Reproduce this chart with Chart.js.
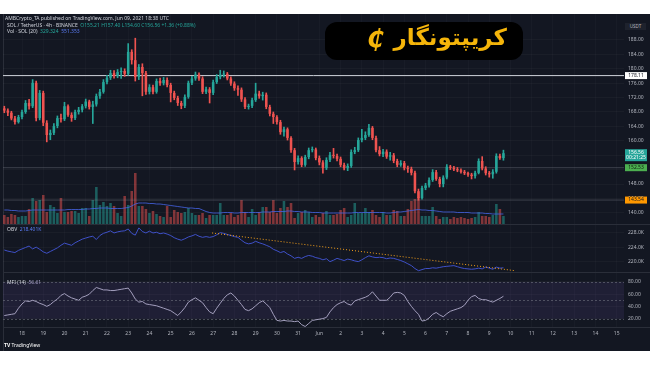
<!DOCTYPE html>
<html>
<head>
<meta charset="utf-8">
<script src="https://cdn.jsdelivr.net/npm/chart.js@4.4.1/dist/chart.umd.min.js"></script>
<style>
body { margin: 0; width: 650px; height: 365px; background: #fff; overflow: hidden; font-family: "Noto Sans", sans-serif; }
#bg { position: absolute; left: 0; top: 14px; width: 650px; height: 337px; background: #131722; }
canvas { position: absolute; left: 0; }
.sep { position: absolute; left: 3px; width: 647px; height: 1px; background: #2a2e39; }
.t { position: absolute; font-size: 5px; line-height: 6px; color: #d1d4dc; white-space: nowrap; }
.g { color: #26a69a; }
.b { color: #5b7cf5; }
.p { color: #a59fc8; }
#logo { position: absolute; left: 325px; top: 22px; width: 198px; height: 38px; background: #000; border-radius: 12px; }
#logo .fa { position: absolute; right: 16px; top: 2px; font: bold 23px "DejaVu Sans"; color: #f5b50a; direction: rtl; }
#logo .coin { position: absolute; left: 42px; top: 3px; font: italic bold 24px "DejaVu Sans"; color: #f5b50a; }
#usdt { position: absolute; left: 625px; top: 23px; width: 21px; height: 7px; background: #1e222d; color: #b2b5be; font-size: 4.5px; line-height: 7px; text-align: center; }
</style>
</head>
<body>
<div id="bg"></div>
<div style="position:absolute;left:3px;top:14px;width:1px;height:337px;background:#2a2e39"></div>
<canvas id="price" width="650" height="210" style="top:14px"></canvas>
<div class="sep" style="top:224px"></div>
<canvas id="obv" width="650" height="47" style="top:225px"></canvas>
<div class="sep" style="top:272px"></div>
<canvas id="mfi" width="650" height="70" style="top:272px"></canvas>
<div class="sep" style="top:327px"></div>

<div class="t" style="left:5px;top:15px">AMBCrypto_TA published on TradingView.com, Jun 09, 2021 18:38 UTC</div>
<div class="t" style="left:7px;top:22px">SOL / TetherUS · 4h · BINANCE &nbsp;<span class="g">O155.21 H157.40 L154.60 C156.56 +1.36 (+0.88%)</span></div>
<div class="t" style="left:7px;top:28px">Vol · SOL (20) &nbsp;<span class="g">329.324</span> &nbsp;<span class="b">551.353</span></div>
<div class="t" style="left:7px;top:226px">OBV &nbsp;<span class="b">218.401K</span></div>
<div class="t" style="left:7px;top:279px">MFI (14) &nbsp;<span class="p">56.61</span></div>
<div class="t" style="left:4px;top:342px;color:#fff"><b>TV</b> TradingView</div>
<div id="usdt">USDT</div>
<div id="logo"><span class="coin">₵</span><span class="fa">کریپتونگار</span></div>

<script>
const dayLabels = ['18','19','20','21','22','23','24','25','26','27','28','29','30','31','Jun','2','3','4','5','6','7','8','9','10','11','12','13','14','15'];

const opens = [
  169.0,168.4,167.8,166.2,165.2,166.6,168.0,170.5,169.6,176.1,
  166.3,173.3,165.0,161.6,162.2,164.1,166.3,166.0,169.6,167.2,
  166.3,168.0,168.6,169.6,170.9,169.4,170.1,172.4,173.6,176.3,
  177.5,178.8,178.0,179.1,179.4,178.6,184.7,182.4,177.7,180.5,
  178.8,173.6,174.9,173.6,176.6,176.0,176.9,175.5,173.3,171.9,
  170.5,169.7,172.2,176.1,177.3,178.4,177.3,173.6,174.3,173.3,
  176.3,177.7,178.4,178.6,177.3,175.9,174.6,174.2,171.5,169.4,
  169.7,171.3,173.1,172.4,172.8,169.4,167.5,166.6,165.2,162.4,
  163.2,160.8,157.4,154.1,155.2,153.3,155.5,157.4,157.6,155.2,
  154.0,152.4,154.7,156.1,155.8,155.0,153.3,152.4,153.0,156.9,
  157.4,160.2,160.8,161.6,163.6,160.8,157.4,156.3,157.0,155.6,
  156.0,154.4,153.3,153.8,152.4,152.2,151.1,146.0,144.1,146.9,
  147.6,149.1,151.3,149.4,148.0,149.8,152.8,152.5,152.1,151.8,
  151.4,151.0,150.6,150.2,151.1,154.4,152.3,151.0,150.7,151.4,
  155.8,155.2
];
const highs = [
  169.6,168.9,168.2,166.8,167.1,168.5,171.2,171.5,177.0,176.6,
  174.0,173.8,165.6,163.0,164.8,166.9,167.4,170.7,170.0,167.8,
  168.5,169.3,170.1,171.6,171.3,171.0,173.0,174.3,177.0,178.2,
  179.6,179.5,179.8,180.3,180.0,187.0,185.3,188.5,181.2,181.4,
  179.3,175.6,175.5,177.2,177.4,177.6,177.5,176.0,173.8,172.4,
  171.0,172.8,176.6,177.9,179.1,178.9,177.8,174.9,174.8,176.9,
  178.4,179.6,179.4,179.0,177.8,176.4,175.3,174.7,172.0,170.2,
  171.9,176.0,173.8,173.5,173.3,169.9,168.0,167.0,165.7,163.8,
  163.6,161.2,157.9,155.8,155.6,156.0,158.0,158.3,158.0,155.8,
  154.5,155.3,156.8,157.9,156.3,155.5,153.8,153.6,157.5,158.2,
  160.8,163.2,162.5,164.6,164.0,161.3,158.4,157.6,157.5,156.8,
  156.5,154.9,154.5,154.3,153.0,152.7,151.6,146.6,147.4,148.2,
  149.7,152.0,151.8,149.9,150.3,153.4,153.2,152.9,152.6,152.2,
  151.8,151.3,151.0,151.6,155.0,155.6,152.8,151.5,152.0,156.4,
  156.3,157.4
];
const lows = [
  167.8,167.0,165.8,164.6,164.9,166.1,167.6,168.8,169.2,165.5,
  165.8,164.2,159.7,160.3,161.7,163.6,165.2,165.6,166.8,165.4,
  165.9,167.4,168.0,169.1,168.8,164.8,169.6,171.8,173.2,175.8,
  177.0,177.4,177.5,177.3,177.9,178.2,181.3,176.6,177.0,172.5,
  172.9,173.0,173.0,173.2,175.4,175.5,175.0,170.8,171.4,169.8,
  168.9,169.2,171.8,175.6,176.8,176.8,173.1,173.1,170.5,172.8,
  175.9,177.2,177.7,176.9,175.4,174.0,172.6,170.9,168.9,168.8,
  169.2,170.9,171.8,171.3,168.9,166.9,164.8,164.6,161.8,161.3,
  160.2,156.8,151.9,153.5,152.8,152.9,155.0,156.9,154.7,153.3,
  151.0,152.0,154.2,155.2,154.4,152.8,151.9,151.7,152.6,156.4,
  157.0,159.7,160.3,161.2,160.3,156.9,155.8,155.6,155.1,154.6,
  153.9,152.8,152.9,151.9,151.2,150.5,145.5,143.5,143.8,146.4,
  147.1,148.7,149.0,147.2,147.2,149.4,152.0,151.7,151.4,151.0,
  150.6,150.1,149.4,149.6,150.8,151.9,150.5,149.9,149.6,151.0,
  154.8,154.6
];
const closes = [
  168.4,167.8,166.2,165.2,166.6,168.0,170.5,169.6,176.1,166.3,
  173.3,165.0,161.6,162.2,164.1,166.3,166.0,169.6,167.2,166.3,
  168.0,168.6,169.6,170.9,169.4,170.1,172.4,173.6,176.3,177.5,
  178.8,178.0,179.1,179.4,178.6,184.7,182.4,177.7,180.5,178.8,
  173.6,174.9,173.6,176.6,176.0,176.9,175.5,173.3,171.9,170.5,
  169.7,172.2,176.1,177.3,178.4,177.3,173.6,174.3,173.3,176.3,
  177.7,178.4,178.6,177.3,175.9,174.6,174.2,171.5,169.4,169.7,
  171.3,173.1,172.4,172.8,169.4,167.5,166.6,165.2,162.4,163.2,
  160.8,157.4,154.1,155.2,153.3,155.5,157.4,157.6,155.2,154.0,
  152.4,154.7,156.1,155.8,155.0,153.3,152.4,153.0,156.9,157.4,
  160.2,160.8,161.6,163.6,160.8,157.4,156.3,157.0,155.6,156.0,
  154.4,153.3,153.8,152.4,152.2,151.1,146.0,144.1,146.9,147.6,
  149.1,151.3,149.4,148.0,149.8,152.8,152.5,152.1,151.8,151.4,
  151.0,150.6,150.2,151.1,154.4,152.3,151.0,150.7,151.4,155.8,
  155.2,156.56
];
// volume, thousands of SOL
const volumes = [
  360,280,400,360,280,320,320,600,1040,920,
  960,1160,480,760,680,440,1040,480,480,520,
  520,440,640,640,320,960,1480,760,880,720,
  840,720,440,320,1120,760,1320,2040,720,720,
  600,440,520,400,320,280,720,280,560,480,
  440,480,640,440,360,360,440,240,360,360,
  360,840,360,360,440,280,360,960,480,280,
  600,360,480,680,680,480,960,440,640,920,
  680,840,240,440,480,560,480,280,360,280,
  440,520,360,360,400,560,640,280,360,840,
  440,440,640,480,560,360,280,480,360,360,
  560,520,320,320,600,920,1000,1080,320,320,
  320,680,320,200,280,280,200,280,240,280,
  240,200,240,280,480,320,320,280,360,800,
  600,320
];
const volumeMA = [
  560,560,540,540,520,520,520,540,560,560,
  560,560,560,560,560,560,560,560,580,580,
  580,580,580,600,600,620,620,640,640,640,
  620,620,620,620,640,660,720,800,840,840,
  840,820,820,800,800,780,760,740,720,700,
  680,660,640,640,620,620,560,500,460,440,
  440,440,460,460,460,440,440,460,460,460,
  460,460,460,480,480,480,500,500,500,500,
  520,520,500,500,480,480,480,460,460,460,
  440,440,440,440,440,440,440,440,440,460,
  460,460,460,460,460,460,460,460,440,440,
  460,480,480,500,520,540,560,580,560,560,
  540,540,520,500,480,480,480,480,460,460,
  460,460,440,440,440,440,420,420,400,400,
  400,400
];
// OBV, thousands
const obv = [
  223.3,223.0,222.8,222.6,223.2,223.6,224.0,224.4,223.6,224.1,
  223.5,222.8,222.4,222.9,223.4,223.9,224.6,225.2,224.9,224.6,
  225.3,225.8,226.3,226.6,226.9,227.1,226.2,227.3,227.9,228.2,
  228.6,228.0,228.3,228.5,228.6,229.1,227.9,227.4,229.4,228.4,
  228.0,228.5,228.0,228.2,227.8,228.0,227.7,227.3,226.7,226.3,
  226.0,226.4,226.9,227.2,227.6,227.1,226.8,227.0,226.8,227.0,
  227.5,228.1,227.9,227.6,227.3,227.0,226.8,226.0,225.3,225.0,
  225.2,225.7,225.3,225.0,224.6,224.2,223.5,223.1,222.6,222.9,
  222.2,221.7,221.0,221.3,221.0,221.5,221.8,221.6,221.2,221.0,
  220.6,220.9,220.1,220.5,221.0,220.7,220.4,220.8,220.6,220.3,
  220.1,220.6,221.2,221.7,221.4,221.2,221.3,221.2,220.9,221.1,
  221.0,220.7,220.4,220.0,219.5,219.0,218.2,217.6,217.9,218.2,
  218.2,218.4,218.3,218.5,218.7,218.8,218.9,219.0,218.7,218.4,
  218.2,218.1,218.0,218.1,218.3,218.1,218.6,218.3,218.0,218.6,
  218.3,218.4
];
const obvTrendX = [58.7, 144.3];
const obvTrendY = [228.0, 217.6];
const mfi = [
  25,26,27,28,37,44,49,48,50,48,
  45,43,40,43,48,52,58,61,57,54,
  52,50,55,57,60,66,71,69,67,67,
  66,66,67,68,69,70,62,52,47,48,
  44,43,42,41,39,37,35,33,29,25,
  31,38,47,51,54,50,46,38,31,28,
  37,45,53,59,62,57,50,43,35,33,
  36,41,46,49,44,38,27,17,16,17,
  16,16,15,16,10,7,12,17,18,19,
  20,22,31,38,43,46,48,44,42,49,
  51,53,55,58,64,57,50,50,50,55,
  62,63,62,58,48,40,33,27,16,17,
  21,27,30,26,23,28,32,34,36,38,
  42,50,56,58,53,51,51,49,47,50,
  53,56.61
];
const priceTicks = [140, 144, 148, 152, 156, 160, 164, 168, 172, 176, 180, 184, 188];
const obvTicks = [220, 224, 228];
const mfiTicks = [20, 40, 60, 80];
const mfiLevels = [80, 50, 20];
const levelLine = 178.11;
const greyLevels = [152.53, 143.54];
const lastPrice = 156.56;
const countdown = '00:21:25';

const UP = '#26a69a', DOWN = '#ef5350';
const isUp = opens.map((o, i) => closes[i] >= o);
const X_MIN = -0.37, X_MAX = 175.06;
const dayTicks = dayLabels.map((_, d) => 5 + d * 6);
const axisFont = { size: 5, family: 'Noto Sans' };

function xScale(showTicks) {
  return {
    type: 'linear', min: X_MIN, max: X_MAX, offset: false,
    afterBuildTicks: s => { s.ticks = dayTicks.map(v => ({ value: v })); },
    ticks: {
      display: showTicks, autoSkip: false, maxRotation: 0, color: '#b2b5be', font: axisFont, padding: 4,
      callback: (v, i) => dayLabels[i]
    },
    grid: { color: 'rgba(255,255,255,0.025)', drawTicks: false, offset: false },
    border: { display: false },
    afterFit: s => { s.height = showTicks ? 15 : 0; s.paddingLeft = 0; s.paddingRight = 0; }
  };
}

function yScale(min, max, ticks, fmt) {
  return {
    position: 'right', min: min, max: max,
    afterBuildTicks: s => { s.ticks = ticks.map(v => ({ value: v })); },
    ticks: { color: '#b2b5be', font: axisFont, padding: 4, callback: fmt },
    grid: { color: 'rgba(255,255,255,0.03)', drawTicks: false },
    border: { display: false },
    afterFit: s => { s.width = 26; s.paddingTop = 0; s.paddingBottom = 0; }
  };
}

const hline = (y, color, dash) => ({
  type: 'line', data: [{ x: X_MIN, y: y }, { x: X_MAX, y: y }],
  borderColor: color, borderWidth: 1, borderDash: dash || [], pointRadius: 0, order: 3
});

function box(ctx, x, y, h, bg, fg, lines) {
  ctx.fillStyle = bg;
  ctx.fillRect(x, y - h / 2, 22, h);
  ctx.fillStyle = fg;
  ctx.font = '5px "Noto Sans"';
  ctx.textAlign = 'center';
  ctx.textBaseline = 'middle';
  lines.forEach((t, k) => ctx.fillText(t, x + 11, y - (lines.length - 1) * 2.5 + k * 5));
}

const priceBoxes = {
  id: 'priceBoxes',
  afterDraw(chart) {
    const ctx = chart.ctx, y = chart.scales.y, x = chart.chartArea.right + 1;
    ctx.save();
    box(ctx, x, y.getPixelForValue(levelLine), 7, '#ffffff', '#131722', [levelLine.toFixed(2)]);
    box(ctx, x, y.getPixelForValue(lastPrice) + 2, 12, UP, '#ffffff', [lastPrice.toFixed(2), countdown]);
    box(ctx, x, y.getPixelForValue(greyLevels[0]), 7, '#4caf50', '#0d1f0e', [greyLevels[0].toFixed(2)]);
    box(ctx, x, y.getPixelForValue(greyLevels[1]), 7, '#ff9800', '#131722', [greyLevels[1].toFixed(2)]);
    ctx.restore();
  }
};

const mfiBand = {
  id: 'mfiBand',
  beforeDatasetsDraw(chart) {
    const ctx = chart.ctx, y = chart.scales.y, a = chart.chartArea;
    ctx.save();
    ctx.fillStyle = 'rgba(126,87,194,0.12)';
    ctx.fillRect(a.left, y.getPixelForValue(80), a.right - a.left, y.getPixelForValue(20) - y.getPixelForValue(80));
    ctx.strokeStyle = 'rgba(120,123,134,0.55)';
    ctx.setLineDash([2, 2]);
    ctx.lineWidth = 1;
    mfiLevels.forEach(v => {
      const py = Math.round(y.getPixelForValue(v)) + 0.5;
      ctx.beginPath(); ctx.moveTo(a.left, py); ctx.lineTo(a.right, py); ctx.stroke();
    });
    ctx.restore();
  }
};

const common = {
  responsive: false, animation: false, devicePixelRatio: 1,
  layout: { padding: { left: 3, top: 0, right: 0, bottom: 0 } },
  plugins: { legend: { display: false }, tooltip: { enabled: false } }
};

new Chart(document.getElementById('price'), {
  type: 'bar',
  data: {
    datasets: [
      {
        yAxisID: 'yVol', grouped: false, order: 5,
        data: volumes.map((v, i) => ({ x: i, y: v })),
        backgroundColor: isUp.map(u => u ? 'rgba(38,166,154,0.5)' : 'rgba(239,83,80,0.5)'),
        categoryPercentage: 0.85, barPercentage: 0.85
      },
      {
        type: 'line', yAxisID: 'yVol', order: 4,
        data: volumeMA.map((v, i) => ({ x: i, y: v })),
        borderColor: 'rgba(70,100,230,0.8)', borderWidth: 1, pointRadius: 0
      },
      hline(levelLine, '#d1d4dc'),
      hline(greyLevels[0], 'rgba(140,143,155,0.35)'),
      hline(greyLevels[1], 'rgba(140,143,155,0.35)'),
      {
        grouped: false, order: 2,
        data: highs.map((h, i) => ({ x: i, y: [lows[i], h] })),
        backgroundColor: isUp.map(u => u ? UP : DOWN),
        barThickness: 1
      },
      {
        grouped: false, order: 1, minBarLength: 1,
        data: opens.map((o, i) => ({ x: i, y: [o, closes[i]] })),
        backgroundColor: isUp.map(u => u ? UP : DOWN),
        categoryPercentage: 0.85, barPercentage: 0.85
      }
    ]
  },
  options: Object.assign({}, common, {
    scales: {
      x: xScale(false),
      y: yScale(136.89, 195.22, priceTicks, v => v.toFixed(2)),
      yVol: { display: false, min: 0, max: 8400 }
    }
  }),
  plugins: [priceBoxes]
});

new Chart(document.getElementById('obv'), {
  type: 'line',
  data: {
    datasets: [
      {
        data: obvTrendX.map((x, i) => ({ x: x, y: obvTrendY[i] })),
        borderColor: '#f7a21b', borderWidth: 1, borderDash: [1, 2], pointRadius: 0
      },
      {
        data: obv.map((v, i) => ({ x: i, y: v })),
        borderColor: '#3f51c9', borderWidth: 1, pointRadius: 0
      }
    ]
  },
  options: Object.assign({}, common, {
    scales: {
      x: xScale(false),
      y: yScale(217.24, 230.2, obvTicks, v => v.toFixed(1) + 'K')
    }
  })
});

new Chart(document.getElementById('mfi'), {
  type: 'line',
  data: {
    datasets: [{
      data: mfi.map((v, i) => ({ x: i, y: v })),
      borderColor: '#a39fbd', borderWidth: 1, pointRadius: 0
    }]
  },
  options: Object.assign({}, common, {
    layout: { padding: { left: 3, top: 1, right: 0, bottom: 0 } },
    scales: {
      x: xScale(true),
      y: yScale(6.2, 94.75, mfiTicks, v => v.toFixed(2))
    }
  }),
  plugins: [mfiBand]
});
</script>
</body>
</html>
